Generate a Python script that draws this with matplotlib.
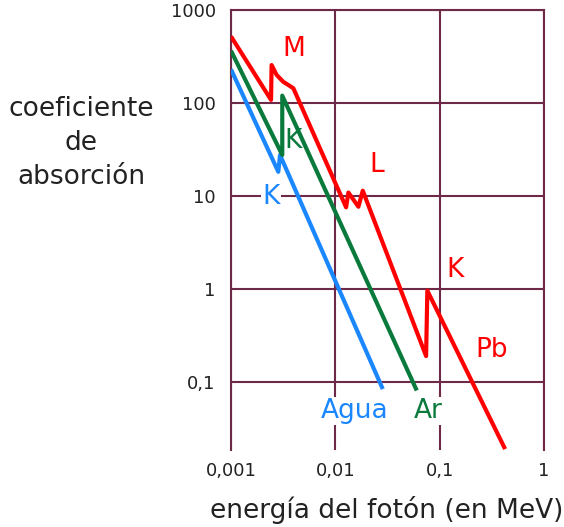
import numpy as np
import matplotlib.pyplot as plt

# energias (MeV) y coeficientes
pb_e = [0.001, 0.00242, 0.00245, 0.00274, 0.00317, 0.00368, 0.00396,
        0.01268, 0.01334, 0.01664, 0.01832, 0.0741, 0.0762, 0.424]
pb_mu = [520, 108, 256, 200, 169, 152, 144,
         7.55, 10.9, 7.67, 11.4, 0.19, 0.96, 0.019]

ar_e = [0.001, 0.0031, 0.0031, 0.0603]
ar_mu = [365, 27.6, 120, 0.081]

agua_e = [0.001, 0.00284, 0.00295, 0.0285]
agua_mu = [230, 18.2, 27.6, 0.084]

xticks = [0.001, 0.01, 0.1, 1]
xlabels = ["0,001", "0,01", "0,1", "1"]
yticks = [0.1, 1, 10, 100, 1000]
ylabels = ["0,1", "1", "10", "100", "1000"]

rojo = "#ff0000"
verde = "#0a7a3c"
azul = "#1a87ff"
granate = "#6e2848"

fig = plt.figure(figsize=(5.64, 5.27), dpi=100)
ax = fig.add_axes([231/564, 1-450/527, 313/564, 440/527])
ax.set_xscale("log")
ax.set_yscale("log")
ax.set_xlim(0.001, 1)
ax.set_ylim(10**-1.731, 1000)

ax.plot(agua_e, agua_mu, color=azul, lw=3, solid_capstyle="butt", zorder=3)
ax.plot(ar_e, ar_mu, color=verde, lw=3, solid_capstyle="butt", zorder=3)
ax.plot(pb_e, pb_mu, color=rojo, lw=3, solid_capstyle="butt", zorder=3)

ax.set_xticks(xticks)
ax.set_xticklabels(xlabels)
ax.set_yticks(yticks)
ax.set_yticklabels(ylabels)
ax.minorticks_off()
ax.tick_params(length=0, labelsize=13, colors="#222222")
ax.tick_params(axis="x", pad=9)
ax.tick_params(axis="y", pad=11)
ax.grid(True, color=granate, lw=1.5)
for s in ["left", "right", "top"]:
    ax.spines[s].set_color(granate)
    ax.spines[s].set_linewidth(1.5)
ax.spines["bottom"].set_visible(False)

fs = 19
ax.text(0.00402, 381, "M", color=rojo, fontsize=fs, ha="center", va="center")
ax.text(0.0251, 21.5, "L", color=rojo, fontsize=fs, ha="center", va="center")
ax.text(0.1406, 1.6, "K", color=rojo, fontsize=fs, ha="center", va="center")
ax.text(0.318, 0.221, "Pb", color=rojo, fontsize=fs, ha="center", va="center")
ax.text(0.00393, 39, "K", color=verde, fontsize=fs, ha="center", va="center")
caja = dict(facecolor="white", edgecolor="none", pad=1)
ax.text(0.00242, 9.75, "K", color=azul, fontsize=fs, ha="center", va="center", bbox=caja)
ax.text(0.01545, 0.0488, "Agua", color=azul, fontsize=fs, ha="center", va="center", bbox=caja)
ax.text(0.0774, 0.0488, "Ar", color=verde, fontsize=fs, ha="center", va="center", bbox=caja)

fig.text(387/564, 1-510/527, "energía del fotón (en MeV)", fontsize=19,
         ha="center", va="center", color="#222222")
fig.text(81/564, 1-143/527, "coeficiente\nde\nabsorción", fontsize=19,
         ha="center", va="center", multialignment="center", linespacing=1.4,
         color="#222222")

fig.savefig("out.png", dpi=100)
